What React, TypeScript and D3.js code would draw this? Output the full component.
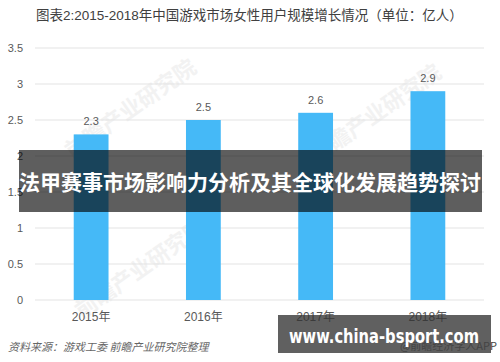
import React from "react";
import * as d3 from "d3";

const categories = ["2015年", "2016年", "2017年", "2018年"];
const values = [2.3, 2.5, 2.6, 2.9];
const yTicks = [0, 0.5, 1, 1.5, 2, 2.5, 3, 3.5];
const titleText = "图表2:2015-2018年中国游戏市场女性用户规模增长情况（单位：亿人）";
const sourceText = "资料来源：游戏工委  前瞻产业研究院整理";
const creditText = "@前瞻经济学人APP";
const bannerText = "法甲赛事市场影响力分析及其全球化发展趋势探讨";
const siteText = "www.china-bsport.com";
const watermarkText = "前瞻产业研究院";

const W = 500;
const H = 362;
const FONT = "'Liberation Sans', 'Noto Sans CJK SC', sans-serif";
const CJK = "'Noto Sans CJK SC', 'Liberation Sans', sans-serif";

export default function App() {
  const x = d3
    .scaleBand<string>()
    .domain(categories)
    .range([35, 484])
    .paddingInner(0.69)
    .paddingOuter(0.345);
  const y = d3.scaleLinear().domain([0, 3.5]).range([300, 48]);

  return (
    <div style={{ position: "absolute", left: 0, top: 0 }}>
      <svg width={W} height={H} style={{ display: "block" }}>
        <rect x={0} y={0} width={W} height={H} fill="#ffffff" />
        <text x={36} y={20} fontSize={13.5} fill="#404040" fontFamily={FONT}>
          {titleText}
        </text>
        {/* faint watermarks */}
        {[
          [135, 115],
          [380, 120],
          [145, 275],
        ].map(([cx, cy], i) => (
          <text
            key={i}
            x={cx}
            y={cy}
            fontSize={22}
            fontWeight="bold"
            fill="#f2f2f2"
            textAnchor="middle"
            fontFamily={CJK}
            transform={`rotate(-35 ${cx} ${cy})`}
          >
            {watermarkText}
          </text>
        ))}
        {yTicks.map((t) => (
          <g key={t}>
            <line x1={35} x2={484} y1={y(t)} y2={y(t)} stroke="#e3e3e3" strokeWidth={1} />
            <text
              x={23}
              y={y(t)}
              dy="0.35em"
              textAnchor="end"
              fontSize={11}
              fill="#595959"
              fontFamily={FONT}
            >
              {t}
            </text>
          </g>
        ))}
        {categories.map((c, i) => (
          <g key={c}>
            <rect
              x={x(c)}
              y={y(values[i])}
              width={x.bandwidth()}
              height={y(0) - y(values[i])}
              fill="#45B9F7"
            />
            <text
              x={(x(c) as number) + x.bandwidth() / 2}
              y={y(values[i]) - 9}
              textAnchor="middle"
              fontSize={11}
              fill="#595959"
              fontFamily={FONT}
            >
              {values[i]}
            </text>
            <text
              x={(x(c) as number) + x.bandwidth() / 2}
              y={321}
              textAnchor="middle"
              fontSize={12}
              fill="#595959"
              fontFamily={FONT}
            >
              {c}
            </text>
          </g>
        ))}
        <text x={8} y={351} fontSize={11} fill="#666666" fontStyle="italic" fontFamily={CJK}>
          {sourceText}
        </text>
        {/* banner overlay */}
        <rect x={19} y={150} width={463} height={62} fill="#000000" fillOpacity={0.63} />
        <text
          x={250}
          y={183}
          dy="0.35em"
          textAnchor="middle"
          fontSize={21}
          fontWeight="bold"
          fill="#ffffff"
          fontFamily={CJK}
        >
          {bannerText}
        </text>
        {/* site watermark */}
        <rect x={278} y={315} width={213} height={38} fill="#333333" fillOpacity={0.78} />
        <text x={497} y={350} textAnchor="end" fontSize={11} fill="#444444" fontFamily={CJK}>
          {creditText}
        </text>
        <text
          x={289}
          y={336}
          dy="0.35em"
          fontSize={20}
          fontWeight="bold"
          fill="#ffffff"
          fontFamily="'DejaVu Sans', 'Liberation Sans', sans-serif"
          textLength={190}
          lengthAdjust="spacingAndGlyphs"
        >
          {siteText}
        </text>
      </svg>
    </div>
  );
}
